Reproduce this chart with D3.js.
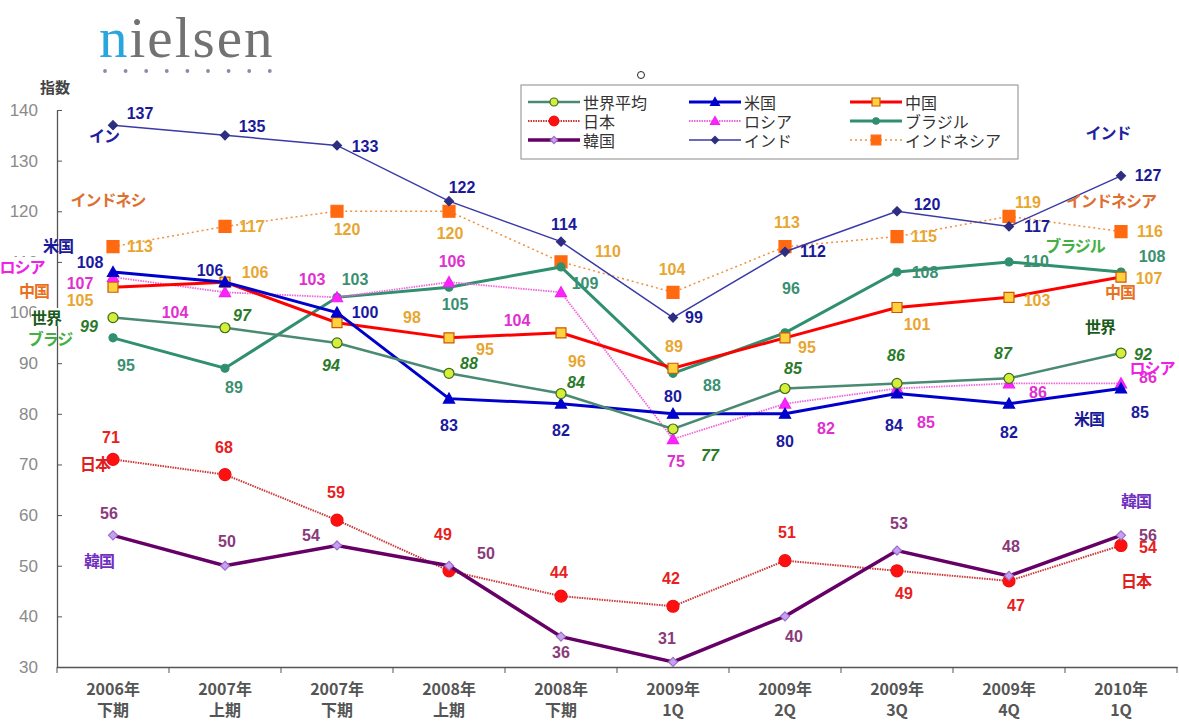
<!DOCTYPE html>
<html><head><meta charset="utf-8">
<script src="https://cdn.jsdelivr.net/npm/d3@7"></script>
<style>body{margin:0;background:#fff}svg{display:block}</style>
</head><body>
<script>
const categories = ["2006年\n下期","2007年\n上期","2007年\n下期","2008年\n上期","2008年\n下期","2009年\n1Q","2009年\n2Q","2009年\n3Q","2009年\n4Q","2010年\n1Q"];
const yTicks = [30,40,50,60,70,80,90,100,110,120,130,140];
const world = [99,97,94,88,84,77,85,86,87,92];
const usa = [108,106,100,83,82,80,80,84,82,85];
const china = [105,106,98,95,96,89,95,101,103,107];
const japan = [71,68,59,49,44,42,51,49,47,54];
const russia = [107,104,103,106,104,75,82,85,86,86];
const brazil = [95,89,103,105,109,88,96,108,110,108];
const korea = [56,50,54,50,36,31,40,53,48,56];
const india = [137,135,133,122,114,99,112,120,117,127];
const indonesia = [113,117,120,120,110,104,113,115,119,116];
const seriesNames = ["世界平均","米国","中国","日本","ロシア","ブラジル","韓国","インド","インドネシア"];

// label offsets (layout only)
const worldOff = [[-24,9],[17,-12],[-6,23],[20,-10],[15,-11],[37,26],[8,-20],[-1,-28],[-6,-25],[22,1]];
const usaOff = [[-23,-10],[-15,-12],[28,0],[0,27],[0,27],[0,-17],[0,28],[-3,32],[0,29],[19,24]];
const chinaOff = [[-33,13],[30,-10],[75,-5],[36,12],[16,29],[1,-22],[22,10],[20,17],[28,3],[28,1]];
const japanOff = [[-2,-22],[-1,-27],[-1,-28],[-6,-36],[-2,-24],[-2,-28],[2,-28],[7,23],[7,25],[27,2]];
const koreaOff = [[-4,-22],[2,-24],[-26,-10],[37,-12],[0,16],[-6,-23],[9,20],[2,-27],[2,-29],[27,0]];
const russiaOff = [[-33,6],[-50,20],[-25,-18],[3,-21],[-44,28],[3,22],[41,25],[29,34],[29,9],[27,-6]];
const brazilOff = [[13,28],[9,19],[18,-18],[6,17],[24,17],[39,12],[6,-44],[28,0],[27,0],[31,-16]];
const indiaOff = [[27,-12],[27,-9],[28,1],[13,-14],[3,-17],[21,0],[28,0],[30,-7],[28,0],[27,0]];
const indoOff = [[27,0],[27,0],[10,18],[1,22],[47,-10],[-1,-23],[2,-24],[27,0],[19,-14],[29,0]];

const W = 1179, H = 722;
const svg = d3.select("body").append("svg").attr("width", W).attr("height", H);
const x = d3.scaleBand().domain(categories).range([57, 1177]);
const y = d3.scaleLinear().domain([30, 140]).range([667, 110]);
const cx = c => x(c) + x.bandwidth() / 2;

const numFont = "'Liberation Sans', Arial, sans-serif";
const jpFont = "'Noto Sans CJK JP', sans-serif";

// Nielsen logo
const logo = svg.append("text").attr("x", 99).attr("y", 57)
  .attr("font-family", "'Liberation Serif', serif").attr("font-size", 57)
  .attr("letter-spacing", 2).attr("fill", "#727272");
logo.append("tspan").attr("fill", "#2aa6de").text("n");
logo.append("tspan").text("ielsen");
svg.append("g").selectAll("circle").data(d3.range(9)).join("circle")
  .attr("cx", d => 105 + d * 20.6).attr("cy", 71).attr("r", 1.9).attr("fill", "#8a8aa6");

svg.append("text").attr("x", 55).attr("y", 93).attr("text-anchor", "middle")
  .attr("font-family", jpFont).attr("font-weight", "bold").attr("font-size", 15)
  .attr("fill", "#444").text("指数");

// Y axis
const yAxis = svg.append("g").attr("transform", "translate(57,0)")
  .call(d3.axisLeft(y).tickValues(yTicks).tickSize(-5).tickPadding(19).tickSizeOuter(0));
yAxis.select(".domain").attr("stroke", "#555").attr("stroke-width", 1.3);
yAxis.selectAll(".tick line").attr("stroke", "#555");
yAxis.selectAll("text").attr("font-family", numFont).attr("font-size", 17)
  .attr("fill", "#8a8a8a");
svg.append("line").attr("x1", 57).attr("x2", 57).attr("y1", 667).attr("y2", 673).attr("stroke", "#555");

// X axis
const xAxis = svg.append("g").attr("transform", "translate(0,667)")
  .call(d3.axisBottom(x).tickSize(0).tickPadding(8).tickFormat(""));
xAxis.select(".domain").attr("stroke", "#555").attr("stroke-width", 1.3);
xAxis.selectAll(".tick").each(function(d) {
  const t = d3.select(this).append("text").attr("font-family", jpFont).attr("font-weight", "bold")
    .attr("font-size", 16).attr("fill", "#555").attr("text-anchor", "middle");
  const parts = d.split("\n");
  t.append("tspan").attr("x", 0).attr("y", 28).text(parts[0]);
  t.append("tspan").attr("x", 0).attr("y", 49).text(parts[1]);
});
svg.append("g").selectAll("line").data(categories).join("line")
  .attr("x1", d => x(d) + x.bandwidth()).attr("x2", d => x(d) + x.bandwidth())
  .attr("y1", 667).attr("y2", 673).attr("stroke", "#555");

// series definitions
const series = [
  {name:"インドネシア", v:indonesia, off:indoOff, stroke:"#f09040", sw:1.5, dash:"2,3", marker:"square", ms:12, fill:"#ff6a10", mstroke:"#ff6a10", lc:"#e8a630"},
  {name:"インド", v:india, off:indiaOff, stroke:"#3a3aa8", sw:1.5, dash:null, marker:"diamond", ms:9, fill:"#2e2e80", mstroke:"#2e2e80", lc:"#1a1a99"},
  {name:"ブラジル", v:brazil, off:brazilOff, stroke:"#2f8f6e", sw:3, dash:null, marker:"circle", ms:4, fill:"#2f8f6e", mstroke:"#2f8f6e", lc:"#3a9070"},
  {name:"ロシア", v:russia, off:russiaOff, stroke:"#ee66dd", sw:1.8, dash:"1.5,1", marker:"triangle", ms:8, fill:"#ff22ff", mstroke:"#ee22ee", lc:"#e030d0"},
  {name:"中国", v:china, off:chinaOff, stroke:"#ff0000", sw:3, dash:null, marker:"square", ms:10, fill:"#ffd040", mstroke:"#c85a00", lc:"#e8a630"},
  {name:"米国", v:usa, off:usaOff, stroke:"#0000cc", sw:3, dash:null, marker:"triangle", ms:8, fill:"#0000cc", mstroke:"#0000cc", lc:"#1a1aa0"},
  {name:"世界平均", v:world, off:worldOff, stroke:"#4a8a72", sw:2.5, dash:null, marker:"circle", ms:5, fill:"#d4ee3a", mstroke:"#3f6a20", lc:"#2a7a2a", italic:true},
  {name:"日本", v:japan, off:japanOff, stroke:"#cc3838", sw:2, dash:"1.5,1", marker:"circle", ms:6, fill:"#ff1010", mstroke:"#ee1010", lc:"#e82020"},
  {name:"韓国", v:korea, off:koreaOff, stroke:"#660066", sw:3.5, dash:null, marker:"diamond", ms:9, fill:"#c8a0f0", mstroke:"#9a70c8", lc:"#8a3a7a"}
];

function markerPath(type, s) {
  if (type === "triangle") return `M0,${-s*0.7}L${s*0.7},${s*0.55}L${-s*0.7},${s*0.55}Z`;
  if (type === "diamond") return `M0,${-s/2}L${s/2},0L0,${s/2}L${-s/2},0Z`;
  if (type === "square") return `M${-s/2},${-s/2}h${s}v${s}h${-s}Z`;
  return null;
}
function drawMarker(g, type, s, fill, stroke, px, py) {
  if (type === "circle") {
    g.append("circle").attr("cx", px).attr("cy", py).attr("r", s).attr("fill", fill).attr("stroke", stroke).attr("stroke-width", 1.2);
  } else {
    g.append("path").attr("d", markerPath(type, s)).attr("transform", `translate(${px},${py})`)
      .attr("fill", fill).attr("stroke", stroke).attr("stroke-width", 1.2);
  }
}

const line = d3.line().x((d, i) => cx(categories[i])).y(d => y(d));
const gLines = svg.append("g");
series.forEach(s => {
  const p = gLines.append("path").datum(s.v).attr("d", line).attr("fill", "none")
    .attr("stroke", s.stroke).attr("stroke-width", s.sw);
  if (s.dash) p.attr("stroke-dasharray", s.dash);
  const gm = gLines.append("g");
  s.v.forEach((v, i) => drawMarker(gm, s.marker, s.ms, s.fill, s.mstroke, cx(categories[i]), y(v)));
});

// value labels
const gLab = svg.append("g");
series.forEach(s => {
  s.v.forEach((v, i) => {
    gLab.append("text").attr("x", cx(categories[i]) + s.off[i][0]).attr("y", y(v) + s.off[i][1])
      .attr("text-anchor", "middle").attr("dominant-baseline", "central")
      .attr("font-family", numFont).attr("font-weight", "bold").attr("font-size", 16)
      .attr("font-style", s.italic ? "italic" : "normal")
      .attr("fill", s.lc).text(v);
  });
});

// series name annotations
const notes = [
  {t:"イン", x:104, y:135, c:"#2020a0", bg:false},
  {t:"インドネシ", x:108, y:199, c:"#dd7030", bg:false},
  {t:"米国", x:58, y:245, c:"#1a1a99", bg:false},
  {t:"ロシア", x:22, y:266, c:"#f020e8", bg:true},
  {t:"中国", x:34, y:290, c:"#e87020", bg:false},
  {t:"世界", x:46, y:317, c:"#1a5a1a", bg:true},
  {t:"ブラジ", x:50, y:338, c:"#44b044", bg:false},
  {t:"日本", x:95, y:463, c:"#e02020", bg:false},
  {t:"韓国", x:99, y:560, c:"#7030c0", bg:false},
  {t:"インド", x:1108, y:132, c:"#2020a0", bg:false},
  {t:"インドネシア", x:1111, y:200, c:"#dd7030", bg:false},
  {t:"ブラジル", x:1075, y:245, c:"#44b044", bg:false},
  {t:"中国", x:1120, y:291, c:"#e87020", bg:false},
  {t:"世界", x:1100, y:326, c:"#1a5a1a", bg:false},
  {t:"ロシア", x:1152, y:367, c:"#f020e8", bg:false},
  {t:"米国", x:1089, y:418, c:"#1a1a99", bg:false},
  {t:"韓国", x:1136, y:500, c:"#7030c0", bg:false},
  {t:"日本", x:1136, y:580, c:"#e02020", bg:false}
];
const gN = svg.append("g");
notes.forEach(n => {
  const t = gN.append("text").attr("x", n.x).attr("y", n.y).attr("text-anchor", "middle")
    .attr("dominant-baseline", "central").attr("font-family", jpFont).attr("font-weight", "bold")
    .attr("font-size", 16).attr("fill", n.c).attr("letter-spacing", -1).text(n.t);
  if (n.bg) {
    const b = t.node().getBBox();
    gN.insert("rect", () => t.node()).attr("x", b.x).attr("y", b.y + 3).attr("width", b.width).attr("height", b.height - 6).attr("fill", "#fff");
  }
});

// legend
const lg = svg.append("g");
lg.append("rect").attr("x", 521).attr("y", 85).attr("width", 497).attr("height", 74)
  .attr("fill", "#fff").attr("stroke", "#8a8a8a");
const legendOrder = ["世界平均","米国","中国","日本","ロシア","ブラジル","韓国","インド","インドネシア"];
legendOrder.forEach((nm, k) => {
  const s = series.find(d => d.name === nm);
  const col = k % 3, row = Math.floor(k / 3);
  const lx = 528 + col * 161, ly = 102 + row * 19;
  const l = lg.append("line").attr("x1", lx).attr("x2", lx + 52).attr("y1", ly).attr("y2", ly)
    .attr("stroke", s.stroke).attr("stroke-width", s.sw);
  if (s.dash) l.attr("stroke-dasharray", s.dash);
  drawMarker(lg, s.marker, s.ms * 0.8, s.fill, s.mstroke, lx + 26, ly);
  lg.append("text").attr("x", lx + 55).attr("y", ly).attr("dominant-baseline", "central")
    .attr("font-family", jpFont).attr("font-size", 16).attr("fill", "#333").text(nm);
});
svg.append("circle").attr("cx", 641).attr("cy", 75).attr("r", 3.5).attr("fill", "none").attr("stroke", "#222");
</script>
</body></html>
